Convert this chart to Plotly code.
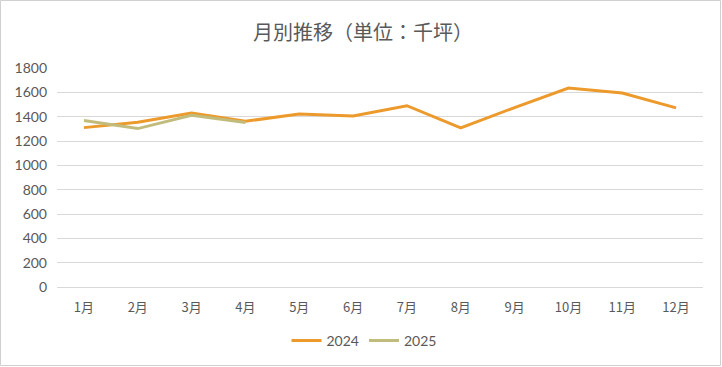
import plotly.graph_objects as go

months = ["1月", "2月", "3月", "4月", "5月", "6月", "7月", "8月", "9月", "10月", "11月", "12月"]
values_2024 = [1310, 1355, 1430, 1362, 1422, 1405, 1490, 1308, 1475, 1635, 1594, 1472]
months_2025 = ["1月", "2月", "3月", "4月"]
values_2025 = [1368, 1302, 1412, 1352]
y_ticks = [0, 200, 400, 600, 800, 1000, 1200, 1400, 1600, 1800]

FONT = "Lato, 'Noto Sans CJK JP', sans-serif"
CJK = "'Noto Sans CJK JP', sans-serif"
GREY = "#595959"

fig = go.Figure()
fig.add_trace(go.Scatter(x=months, y=values_2024, name="2024", mode="lines",
                         line=dict(color="#EC9A2C", width=3)))
fig.add_trace(go.Scatter(x=months_2025, y=values_2025, name="2025", mode="lines",
                         line=dict(color="#C2BC7C", width=3)))

L, R, T, B = 57, 19, 68, 80
W, H = 722, 367
pw, ph = W - L - R, H - T - B

fig.update_layout(
    width=W, height=H,
    margin=dict(l=L, r=R, t=T, b=B, autoexpand=False),
    paper_bgcolor="white", plot_bgcolor="white",
    font=dict(family=FONT, size=13, color=GREY),
    title=dict(text="月別推移（単位：千坪）", x=(363 - L) / pw, xref="paper", xanchor="center",
               y=1 - 33 / H, yanchor="middle",
               font=dict(family=CJK, size=20, color=GREY)),
    xaxis=dict(type="category", categoryorder="array", categoryarray=months,
               showgrid=False, showline=True, linecolor="#d9d9d9", linewidth=1,
               ticks="", ticklabelstandoff=8, tickfont=dict(family=CJK, size=13, color=GREY),
               range=[-0.5, 11.5]),
    yaxis=dict(range=[0, 1800], tickvals=y_ticks, showgrid=True, gridcolor="#d9d9d9",
               gridwidth=1, zeroline=False, showline=False, ticks="",
               ticklabelstandoff=9, tickfont=dict(size=14, color=GREY)),
    legend=dict(orientation="h", x=(364 - L) / pw, xanchor="center", y=(287 - 341) / ph,
                yanchor="middle", font=dict(size=14, color=GREY)),
    showlegend=True,
)

fig.add_shape(type="rect", xref="paper", yref="paper",
              x0=-(L - 0.5) / pw, x1=1 + (R - 1.5) / pw,
              y0=-(B - 1.5) / ph, y1=1 + (T - 0.5) / ph,
              line=dict(color="#d0d0d0", width=1), layer="below")

fig.write_html("out.html", config={"displayModeBar": False},
               post_script="document.body.style.margin='0';")
